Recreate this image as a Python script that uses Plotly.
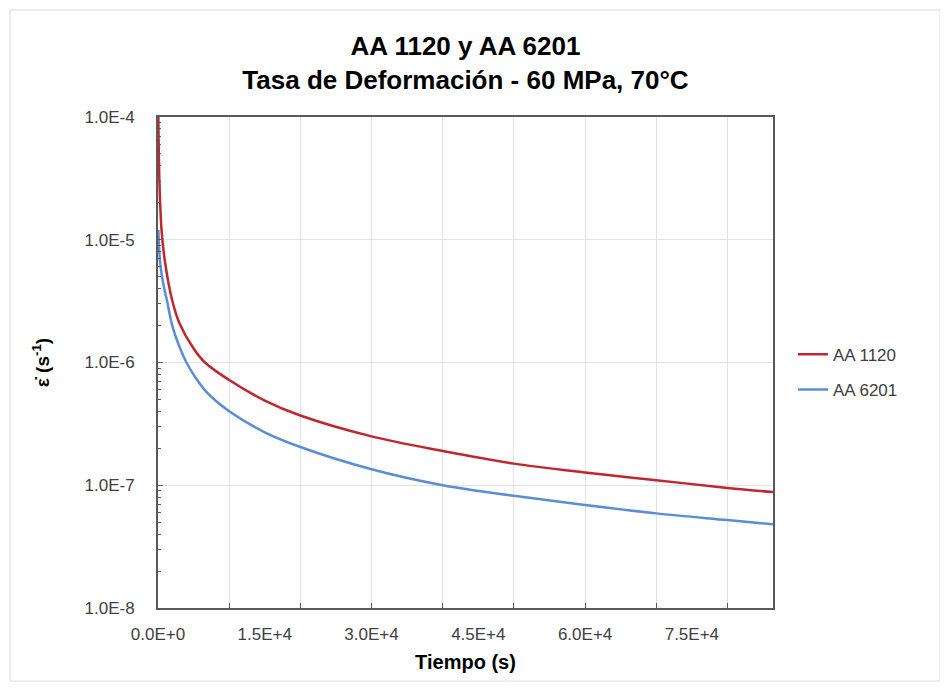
import plotly.graph_objects as go

# ---- data ----
t_1120 = [50, 200, 500, 1000, 2000, 3000, 5000, 6600, 10000, 15000, 20000,
          30000, 40000, 50000, 60000, 70000, 80000, 86400]
r_1120 = [1.0e-4, 3.0e-5, 1.2e-5, 6.5e-6, 3.2e-6, 2.1e-6, 1.3e-6, 1.0e-6,
          7.2e-7, 4.9e-7, 3.7e-7, 2.5e-7, 1.9e-7, 1.5e-7, 1.27e-7, 1.1e-7,
          9.5e-8, 8.8e-8]

t_6201 = [50, 300, 700, 1260, 2000, 3000, 4000, 5500, 7000, 10000, 15000,
          20000, 30000, 40000, 50000, 60000, 70000, 80000, 86400]
r_6201 = [1.2e-5, 6.5e-6, 4.5e-6, 3.2e-6, 2.0e-6, 1.35e-6, 1.0e-6, 7.2e-7,
          5.6e-7, 4.0e-7, 2.7e-7, 2.05e-7, 1.35e-7, 1.0e-7, 8.2e-8, 6.9e-8,
          5.9e-8, 5.2e-8, 4.8e-8]

x_tickvals = [0, 15000, 30000, 45000, 60000, 75000]
x_ticktext = ["0.0E+0", "1.5E+4", "3.0E+4", "4.5E+4", "6.0E+4", "7.5E+4"]
y_tickvals = [1e-8, 1e-7, 1e-6, 1e-5, 1e-4]
y_ticktext = ["1.0E-8", "1.0E-7", "1.0E-6", "1.0E-5", "1.0E-4"]
x_max = 86400

FONT = "Liberation Sans, Arial, sans-serif"
RED = "#C0262D"
BLUE = "#5B8CD6"
AXIS = "#595959"
GRID = "#E3E3E3"
TICKCOL = "#404040"

fig = go.Figure()
fig.add_trace(go.Scatter(x=t_1120, y=r_1120, mode="lines", name="AA 1120",
                         legendgroup="a",
                         line=dict(color=RED, width=2.5, shape="spline")))
fig.add_trace(go.Scatter(x=t_6201, y=r_6201, mode="lines", name="AA 6201",
                         legendgroup="b",
                         line=dict(color=BLUE, width=2.5, shape="spline")))

fig.update_layout(
    width=940, height=683,
    paper_bgcolor="white", plot_bgcolor="white",
    margin=dict(l=150, r=175, t=109, b=83),
    font=dict(family=FONT, color=TICKCOL),
    title=dict(
        text="<b>AA 1120 y AA 6201<br>Tasa de Deformación - 60 MPa, 70°C</b>",
        x=0.5, xref="paper", xanchor="center",
        y=1 - (55 - 8) / 683, yref="container", yanchor="middle",
        font=dict(family=FONT, size=26, color="#000000"),
    ),
    showlegend=True,
    legend=dict(x=1.0325, y=0.48, xanchor="left", yanchor="middle",
                font=dict(family=FONT, size=17, color=TICKCOL),
                bgcolor="rgba(0,0,0,0)", itemwidth=30, tracegroupgap=10),
    xaxis=dict(
        range=[0, x_max], tickmode="array", tickvals=x_tickvals,
        ticktext=x_ticktext, ticks="", showgrid=False, zeroline=False,
        showline=True, linecolor=AXIS, linewidth=2, mirror=True,
        ticklabelstandoff=10,
        tickfont=dict(family=FONT, size=17, color=TICKCOL),
        title=dict(text="<b>Tiempo (s)</b>", standoff=12,
                   font=dict(family=FONT, size=20, color="#000000")),
    ),
    xaxis2=dict(
        range=[0, x_max], overlaying="x", side="bottom", dtick=10000,
        tick0=0, showticklabels=False, ticks="inside", ticklen=5,
        tickcolor=AXIS, tickwidth=1, showgrid=True, gridcolor=GRID,
        gridwidth=1, zeroline=False, showline=False,
    ),
    yaxis=dict(
        type="log", range=[-8, -4], tickmode="array", tickvals=y_tickvals,
        ticktext=y_ticktext, showgrid=True, gridcolor=GRID, gridwidth=1,
        zeroline=False, showline=True, linecolor=AXIS, linewidth=2,
        mirror=True, ticks="inside", ticklen=5, tickcolor=AXIS,
        ticklabelstandoff=18,
        minor=dict(dtick="D1", ticks="inside", ticklen=3, tickcolor=AXIS,
                   showgrid=False),
        tickfont=dict(family=FONT, size=17, color=TICKCOL),
        title=dict(text="<b>ε̇ (s<sup>-1</sup>)</b>", standoff=30,
                   font=dict(family=FONT, size=19, color="#000000")),
    ),
    shapes=[dict(type="rect", xref="paper", yref="paper",
                 x0=(10 - 158) / 615, x1=(940 - 158) / 615,
                 y0=(608 - 681) / 491, y1=(608 - 10) / 491,
                 line=dict(color="#DADADA", width=1), layer="below")],
)

# invisible trace so the tick/grid overlay axis xaxis2 is drawn
fig.add_trace(go.Scatter(x=[0, x_max], y=[1e-8, 1e-8], xaxis="x2",
                         mode="lines", line=dict(width=0), showlegend=False,
                         hoverinfo="skip"))

fig.write_html("out.html")
